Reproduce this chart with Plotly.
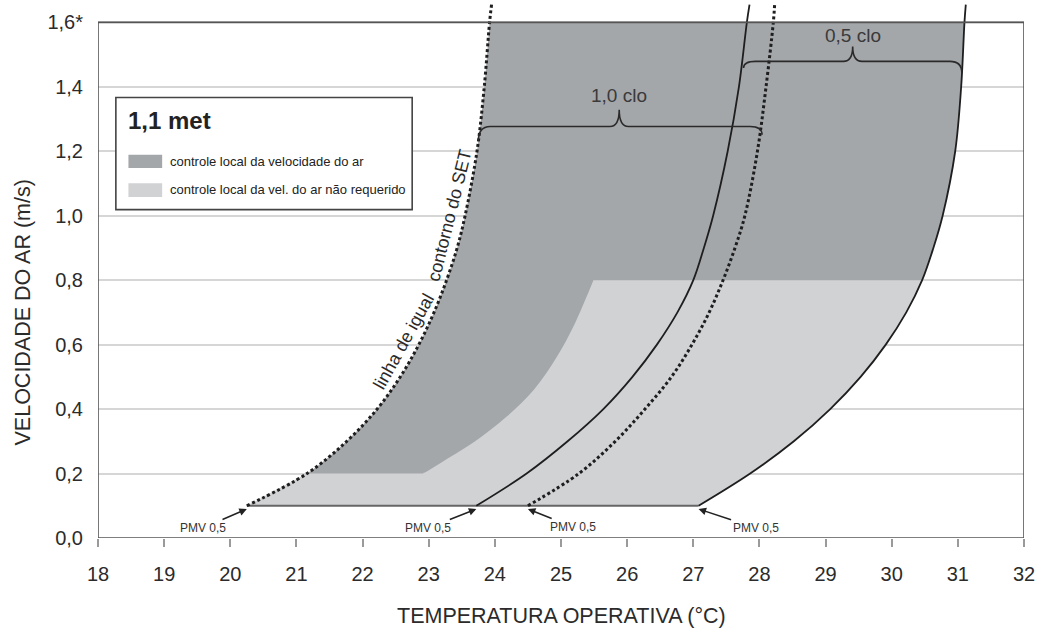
import plotly.graph_objects as go

# ---------------- data ----------------
# air speed levels (m/s) at which each curve's temperature was read
v_levels = [0.1, 0.2, 0.3, 0.4, 0.5, 0.6, 0.7, 0.8, 0.9, 1.0, 1.2, 1.4, 1.6, 1.655]
# operative temperature (°C) of each curve at those speeds
t_set_10clo = [20.25, 21.16, 21.76, 22.22, 22.57, 22.85, 23.08, 23.27, 23.43, 23.55, 23.73, 23.84, 23.92, 23.95]
t_pmv_10clo = [23.72, 24.48, 25.10, 25.64, 26.08, 26.45, 26.76, 27.00, 27.16, 27.30, 27.52, 27.69, 27.81, 27.85]
t_set_05clo = [24.50, 25.27, 25.82, 26.27, 26.67, 26.98, 27.24, 27.45, 27.63, 27.78, 27.97, 28.10, 28.21, 28.23]
t_pmv_05clo = [27.08, 27.86, 28.52, 29.07, 29.53, 29.91, 30.22, 30.46, 30.63, 30.77, 30.96, 31.05, 31.10, 31.12]

# upper edge of the zone where local air-speed control is not required
t_noctrl_edge = [22.92, 23.18, 23.68, 24.18, 24.59, 24.94, 25.19, 25.39, 25.49]
v_noctrl_edge = [0.20, 0.233, 0.297, 0.377, 0.46, 0.563, 0.657, 0.75, 0.80]

v_min_zone = 0.1     # lower limit of the zones
v_top_zone = 1.6     # upper limit of the zones
v_step_zone = 0.2    # level of the flat part of the light zone
v_flat_zone = 0.8    # upper level of the light zone

# clo braces: left end, right end, level, tip
brace_labels = ["1,0 clo", "0,5 clo"]
brace_t_left = [23.75, 27.76]
brace_v_left = [1.231, 1.458]
brace_t_right = [28.04, 31.06]
brace_v_right = [1.251, 1.443]
brace_v_level = [1.277, 1.479]
brace_t_tip = [25.88, 29.41]
brace_v_tip = [1.329, 1.525]
brace_label_v = [1.372, 1.559]

x_ticks = list(range(18, 33))
y_ticks = [0.0, 0.2, 0.4, 0.6, 0.8, 1.0, 1.2, 1.4, 1.6]
y_ticktext = ["0,0", "0,2", "0,4", "0,6", "0,8", "1,0", "1,2", "1,4", "1,6*"]

legend_title = "1,1 met"
legend_items = ["controle local da velocidade do ar",
                "controle local da vel. do ar não requerido"]

# ---------------- styling ----------------
DARK = "#a4a7aa"
LIGHT = "#d1d2d4"
INK = "#1e1e1e"
TXT = "#2b2b2b"
FONT = "Liberation Sans, Arial, sans-serif"
SM = 1.0

fig = go.Figure()


def edge(x, y, fill=None, color=None, shape="spline"):
    ln = dict(width=0, shape=shape)
    if shape == "spline":
        ln["smoothing"] = SM
    kw = dict(x=x, y=y, mode="lines", line=ln, hoverinfo="skip", showlegend=False)
    if fill:
        kw.update(fill=fill, fillcolor=color)
    fig.add_trace(go.Scatter(**kw))


# dark zone: between the left SET line and the right PMV line (0.1 .. 1.6 m/s)
idx = [i for i, v in enumerate(v_levels) if v <= v_top_zone]
edge([t_set_10clo[i] for i in idx], [v_levels[i] for i in idx])
edge([t_pmv_05clo[i] for i in idx], [v_levels[i] for i in idx], fill="tonextx", color=DARK)

# light zone, part 1: strip 0.1 .. 0.2 m/s
low = [i for i, v in enumerate(v_levels) if v <= v_step_zone]
edge([t_set_10clo[i] for i in low], [v_levels[i] for i in low], shape="linear")
edge([t_pmv_05clo[i] for i in low], [v_levels[i] for i in low], fill="tonextx", color=LIGHT, shape="linear")

# light zone, part 2: 0.2 .. 0.8 m/s
mid = [i for i, v in enumerate(v_levels) if v_step_zone <= v <= v_flat_zone]
edge(t_noctrl_edge, v_noctrl_edge)
edge([t_pmv_05clo[i] for i in mid], [v_levels[i] for i in mid], fill="tonextx", color=LIGHT)

# cover the seam between the two light parts
fig.add_trace(go.Scatter(x=[t_noctrl_edge[0], t_pmv_05clo[low[-1]]], y=[v_step_zone, v_step_zone],
                         mode="lines", line=dict(color=LIGHT, width=1.5),
                         hoverinfo="skip", showlegend=False))

# bottom limit line at 0.1 m/s
fig.add_trace(go.Scatter(x=[t_set_10clo[0], t_pmv_05clo[0]], y=[v_min_zone, v_min_zone],
                         mode="lines", line=dict(color="#666666", width=2.2),
                         hoverinfo="skip", showlegend=False))

# curves
for t, dotted in [(t_set_10clo, True), (t_pmv_10clo, False), (t_set_05clo, True), (t_pmv_05clo, False)]:
    if dotted:
        ln = dict(color=INK, width=3, dash="3px,2.6px", shape="spline", smoothing=SM)
    else:
        ln = dict(color=INK, width=1.8, shape="spline", smoothing=SM)
    fig.add_trace(go.Scatter(x=t, y=v_levels, mode="lines", line=ln,
                             hoverinfo="skip", showlegend=False))

shapes = []
# frame
shapes.append(dict(type="rect", xref="x", yref="y", x0=x_ticks[0], x1=x_ticks[-1], y0=0, y1=y_ticks[-1],
                   line=dict(color="#555555", width=1.6), layer="above"))

# braces
r = 0.18
r2 = 0.14
annotations = []
for k in range(len(brace_labels)):
    tl, vl0 = brace_t_left[k], brace_v_left[k]
    tr, vr0 = brace_t_right[k], brace_v_right[k]
    lvl, tt, vt = brace_v_level[k], brace_t_tip[k], brace_v_tip[k]
    path = (f"M {tl},{vl0} Q {tl},{lvl} {tl + r},{lvl} L {tt - r2},{lvl} "
            f"Q {tt},{lvl} {tt},{vt} Q {tt},{lvl} {tt + r2},{lvl} "
            f"L {tr - r},{lvl} Q {tr},{lvl} {tr},{vr0}")
    shapes.append(dict(type="path", xref="x", yref="y", path=path,
                       line=dict(color="#2a2a2a", width=1.6), layer="above"))
    annotations.append(dict(x=tt, y=brace_label_v[k], xref="x", yref="y", text=brace_labels[k],
                            showarrow=False, font=dict(size=19, color="#3a3a3a", family=FONT),
                            xanchor="center", yanchor="middle"))

# PMV 0,5 arrows at the start of each curve
pmv_offsets = [(-44, 19), (-48, 19), (45, 18), (57, 19)]
for t, (ax, ay) in zip([t_set_10clo, t_pmv_10clo, t_set_05clo, t_pmv_05clo], pmv_offsets):
    annotations.append(dict(x=t[0], y=0.09, xref="x", yref="y", text="PMV 0,5",
                            showarrow=True, arrowhead=2, arrowsize=1, arrowwidth=1.5,
                            arrowcolor="#222222", ax=ax, ay=ay, standoff=0,
                            font=dict(size=12, color="#333333", family=FONT)))

# rotated label following the SET line (two pieces to follow its bend)
annotations.append(dict(x=22.63, y=0.61, xref="x", yref="y", text="linha de igual",
                        showarrow=False, textangle=-61,
                        font=dict(size=18, color="#2a2a2a", family=FONT)))
annotations.append(dict(x=23.31, y=1.0, xref="x", yref="y", text="contorno do SET",
                        showarrow=False, textangle=-76,
                        font=dict(size=18, color="#2a2a2a", family=FONT)))

# legend box (drawn manually)
shapes.append(dict(type="rect", xref="x", yref="y", x0=18.27, x1=22.75, y0=1.019, y1=1.367,
                   fillcolor="white", line=dict(color="#444444", width=1.6), layer="above"))
shapes.append(dict(type="rect", xref="x", yref="y", x0=18.46, x1=18.97, y0=1.148, y1=1.189,
                   fillcolor=DARK, line=dict(width=0), layer="above"))
shapes.append(dict(type="rect", xref="x", yref="y", x0=18.46, x1=18.97, y0=1.058, y1=1.101,
                   fillcolor=LIGHT, line=dict(width=0), layer="above"))
annotations.append(dict(x=18.43, y=1.296, xref="x", yref="y", text="<b>" + legend_title + "</b>",
                        showarrow=False, xanchor="left", yanchor="middle",
                        font=dict(size=24, color="#222222", family=FONT)))
for txt, vy in zip(legend_items, [1.168, 1.081]):
    annotations.append(dict(x=19.06, y=vy, xref="x", yref="y", text=txt,
                            showarrow=False, xanchor="left", yanchor="middle",
                            font=dict(size=13, color="#222222", family=FONT)))

# axis titles
annotations.append(dict(x=0.5, y=-0.145, xref="paper", yref="paper", text="TEMPERATURA OPERATIVA (°C)",
                        showarrow=False, xanchor="center", yanchor="middle",
                        font=dict(size=21.5, color="#2b2b2b", family=FONT)))
annotations.append(dict(x=-0.0807, y=0.422, xref="paper", yref="paper", text="VELOCIDADE DO AR (m/s)",
                        showarrow=False, textangle=-90, xanchor="center", yanchor="middle",
                        font=dict(size=21.5, color="#2b2b2b", family=FONT)))

fig.update_layout(
    width=1048, height=632,
    margin=dict(l=98, r=24, t=3, b=94),
    paper_bgcolor="white", plot_bgcolor="white",
    shapes=shapes, annotations=annotations,
    font=dict(family=FONT, color=TXT),
    xaxis=dict(range=[x_ticks[0], x_ticks[-1]], tickvals=x_ticks, ticks="outside", ticklen=8,
               tickwidth=1.5, tickcolor="#9a9a9a", showgrid=False, zeroline=False, showline=False,
               tickfont=dict(size=20, color=TXT), ticklabelstandoff=10),
    yaxis=dict(range=[0, 1.66], tickvals=y_ticks, ticktext=y_ticktext, ticks="",
               showgrid=True, gridcolor="#d6d6d6", gridwidth=1.5, zeroline=False, showline=False,
               tickfont=dict(size=20, color=TXT), ticklabelstandoff=14),
)

fig.write_html("out.html", config={"displayModeBar": False},
               post_script="document.body.style.margin='0';")
